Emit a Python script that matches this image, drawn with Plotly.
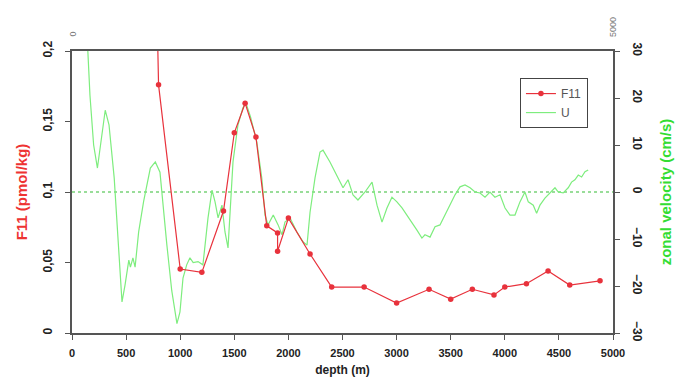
import plotly.graph_objects as go

# F11 profile (depth in m, F11 in pmol/kg)
f11_depth = [780, 800, 1000, 1200, 1400, 1500, 1600, 1700, 1800, 1900, 1900, 2000,
             2200, 2400, 2700, 3000, 3300, 3500, 3700, 3900, 4000, 4200, 4400, 4600, 4880]
f11_value = [0.25, 0.176, 0.0454, 0.043, 0.0865, 0.142, 0.163, 0.139, 0.076, 0.071, 0.058, 0.0815,
             0.056, 0.0326, 0.0326, 0.0213, 0.031, 0.024, 0.031, 0.027, 0.0326, 0.035, 0.044, 0.034, 0.037]

# zonal velocity profile (depth in m, U in cm/s)
u_depth = [140, 166, 200, 235, 307, 342, 390, 415, 436, 462, 490, 525, 540, 563, 583, 616, 662,
           724, 770, 813, 877, 922, 970, 998, 1026, 1060, 1090, 1120, 1165, 1210, 1257, 1294,
           1322, 1350, 1386, 1414, 1442, 1460, 1488, 1534, 1580, 1608, 1650, 1708, 1754, 1784,
           1812, 1860, 1905, 1941, 1968, 2015, 2079, 2135, 2172, 2200, 2246, 2292, 2320, 2384,
           2459, 2505, 2551, 2597, 2643, 2708, 2773, 2819, 2865, 2911, 2957, 3003, 3050, 3096,
           3142, 3188, 3234, 3262, 3309, 3355, 3401, 3447, 3494, 3540, 3586, 3632, 3679, 3725,
           3771, 3817, 3863, 3909, 3956, 4002, 4048, 4094, 4140, 4186, 4217, 4263, 4294, 4325,
           4371, 4417, 4464, 4494, 4540, 4586, 4617, 4648, 4679, 4710, 4741, 4771]
u_value = [33, 20.6, 10, 5.1, 17.4, 14.3, 3, -5.5, -14, -23.4, -19.8, -14.5, -16, -14, -16, -8.5, -2,
           5.1, 6.4, 4.2, -11.3, -21, -28, -25.5, -18.3, -15.5, -14, -15, -14.8, -15.5, -5.5, 0.4,
           -2.1, -5.5, -2.8, -8.5, -11.9, -4.3, 6.4, 14.3, 17.9, 18.9, 16, 10.6, 3, -4.9,
           -7, -4.9, -7, -9.1, -6.4, -5.5, -8.5, -10.6, -11.3, -4.3, 3, 8.5, 8.9, 6.4,
           3, 0.9, 2.6, -0.6, -1.7, 0, 2.1, -2.8, -6.4, -3.4, -1.1, -2.1, -3.4, -4.9,
           -6.4, -8.1, -9.8, -9.1, -9.6, -7.4, -7, -4.9, -2.8, -0.6, 1.1, 1.5, 0.9, 0,
           -0.2, -1.1, 0, -1.1, -0.6, -3.4, -4.9, -4.9, -2.1, 0, -2.1, -2.8, -4.5, -2.8,
           -1.3, -0.2, 0.9, 0, -0.2, 0.9, 2.1, 2.6, 3.6, 3.2, 4.3, 4.7]

x_ticks = [0, 500, 1000, 1500, 2000, 2500, 3000, 3500, 4000, 4500, 5000]
top_ticks = [0, 5000]
f11_ticks = [0, 0.05, 0.1, 0.15, 0.2]
f11_ticktext = ["0", "0,05", "0,1", "0,15", "0,2"]
u_ticks = [-30, -20, -10, 0, 10, 20, 30]

RED = "#e8323c"
GREEN = "#7eed7e"
AX = "#555555"
XTICKFONT = dict(family="Arial", size=11, color="#222222", weight="bold")
YTICKFONT = dict(family="Arial", size=12, color="#222222", weight="bold")

fig = go.Figure()

fig.add_trace(go.Scatter(
    x=f11_depth, y=f11_value, name="F11", mode="lines+markers",
    line=dict(color=RED, width=1.2), marker=dict(color=RED, size=5.5),
    xaxis="x", yaxis="y2"))

fig.add_trace(go.Scatter(
    x=u_depth, y=u_value, name="U", mode="lines",
    line=dict(color=GREEN, width=1.2),
    xaxis="x", yaxis="y"))

# zero line of zonal velocity
fig.add_shape(type="line", xref="x", yref="y", x0=0, x1=5000, y0=0, y1=0,
              line=dict(color="#99dd99", width=2, dash="dot"), layer="below")

# top-axis labels (rotated, bottom-anchored)
for t in top_ticks:
    fig.add_annotation(x=t, xref="x", y=1, yref="paper", yshift=12, text=str(t),
                       textangle=-90, showarrow=False, xanchor="center", yanchor="bottom",
                       font=dict(family="Arial", size=9, color="#777777"))

fig.update_layout(
    width=678, height=387,
    margin=dict(l=72, r=65, t=51, b=54, autoexpand=False),
    paper_bgcolor="white", plot_bgcolor="white",
    showlegend=True,
    legend=dict(x=0.828, y=0.904, xanchor="left", yanchor="top",
                bgcolor="white", bordercolor="#444444", borderwidth=1,
                font=dict(family="Arial", size=12, color="#555555"),
                tracegroupgap=0, itemwidth=30),
    xaxis=dict(range=[0, 5000], tickvals=x_ticks, showgrid=False, zeroline=False,
               showline=True, linecolor=AX, linewidth=1.5, mirror=True, automargin=False,
               ticks="outside", ticklen=5, tickcolor=AX, tickfont=XTICKFONT,
               ticklabelstandoff=4,
               title=dict(text="depth (m)", standoff=8,
                          font=dict(family="Arial", size=12, color="#222222", weight="bold"))),
    yaxis=dict(range=[-30, 30], side="right", tickvals=u_ticks, showgrid=False, zeroline=False,
               showline=True, linecolor=AX, linewidth=1.5, automargin=False,
               ticks="outside", ticklen=5, tickcolor=AX, tickfont=YTICKFONT,
               tickangle=90, ticklabelstandoff=8,
               title=dict(text="zonal velocity (cm/s)", standoff=18,
                          font=dict(family="Arial", size=15, color="#33dd33", weight="bold"))),
    yaxis2=dict(range=[0, 0.2], side="left", overlaying="y", tickvals=f11_ticks,
                ticktext=f11_ticktext, showgrid=False, zeroline=False, automargin=False,
                showline=True, linecolor=AX, linewidth=1.5,
                ticks="outside", ticklen=5, tickcolor=AX, tickfont=YTICKFONT,
                tickangle=-90, ticklabelstandoff=8,
                title=dict(text="F11 (pmol/kg)", standoff=10,
                           font=dict(family="Arial", size=15, color="#ee3333", weight="bold"))),
)

fig.write_html("out.html")
